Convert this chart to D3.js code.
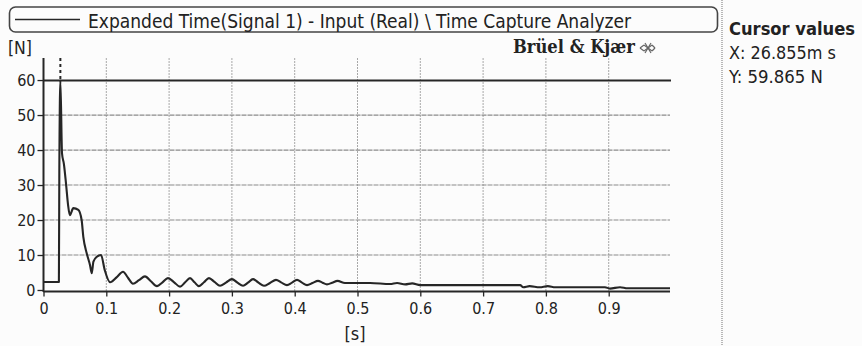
<!DOCTYPE html>
<html>
<head>
<meta charset="utf-8">
<script src="https://cdn.jsdelivr.net/npm/d3@7/dist/d3.min.js"></script>
<style>
  html, body { margin: 0; padding: 0; background: #fcfcfc; }
  svg { display: block; }
  text { font-family: "DejaVu Sans Condensed", "DejaVu Sans", sans-serif; font-stretch: condensed; fill: #222; }
</style>
</head>
<body>
<svg id="chart" width="862" height="346"></svg>
<script>
// Force trace: time in seconds, force in newtons
const timeS = [
  0, 0.0245, 0.0252, 0.02686, 0.0295, 0.0325, 0.0358, 0.039, 0.042, 0.0475,
  0.0555, 0.0607, 0.0634, 0.0688, 0.0741, 0.0768, 0.0795, 0.085, 0.0916, 0.0975,
  0.106, 0.1163, 0.1266, 0.1345, 0.1425, 0.152, 0.1616, 0.171, 0.1807, 0.1895,
  0.1982, 0.208, 0.2174, 0.2255, 0.2333, 0.2405, 0.2476, 0.2555, 0.2635, 0.2723,
  0.2811, 0.2905, 0.3, 0.3088, 0.3177, 0.3256, 0.3336, 0.3423, 0.3511, 0.3606,
  0.3702, 0.379, 0.3877, 0.3957, 0.4037, 0.4116, 0.4196, 0.4284, 0.4371, 0.4443,
  0.4514, 0.4598, 0.4682, 0.48, 0.52, 0.552, 0.563, 0.576, 0.587, 0.6,
  0.68, 0.759, 0.764, 0.774, 0.79, 0.803, 0.815, 0.86, 0.894, 0.902,
  0.918, 0.93, 0.96, 0.9976
];
const forceN = [
  2.3, 2.3, 34, 59.865, 39, 36, 30.5, 24.5, 21.4, 23.4,
  22.9, 20, 15.2, 10.5, 7.1, 4.8, 8.1, 9.5, 10, 5.7,
  2.2, 3.6, 5.2, 3.5, 1.8, 2.8, 3.9, 2.5, 1.1, 2.2,
  3.4, 2.2, 0.95, 2.2, 3.4, 2.2, 1.1, 2.2, 3.4, 2.3,
  1.2, 2.1, 3.1, 2.1, 1.2, 2.1, 3.1, 2.1, 1.2, 2.0,
  2.9, 2.1, 1.4, 2.1, 2.9, 2.1, 1.4, 2.0, 2.6, 2.1,
  1.6, 2.1, 2.6, 2.0, 2.0, 1.7, 2.0, 1.6, 1.9, 1.4,
  1.4, 1.4, 0.8, 1.1, 0.8, 1.1, 0.8, 0.8, 0.8, 0.4,
  0.8, 0.5, 0.5, 0.5
];

const xTicks = [0, 0.1, 0.2, 0.3, 0.4, 0.5, 0.6, 0.7, 0.8, 0.9];
const xTickLabels = ["0", "0.1", "0.2", "0.3", "0.4", "0.5", "0.6", "0.7", "0.8", "0.9"];
const yTicks = [0, 10, 20, 30, 40, 50, 60];
const yTickLabels = ["0", "10", "20", "30", "40", "50", "60"];

const cursorX = 0.026855;   // s
const cursorY = 59.865;     // N

const legendTitle = "Expanded Time(Signal 1) - Input (Real) \\ Time Capture Analyzer";
const brandText = "Br\u00fcel & Kj\u00e6r";
const cursorLines = ["Cursor values", "X: 26.855m s", "Y: 59.865 N"];

const svg = d3.select("#chart");
const ink = "#262626";

const plot = { left: 43.5, right: 670, top: 58, bottom: 291.5 };

const x = d3.scaleLinear().domain([0, 0.9976]).range([plot.left, plot.right]);
const y = d3.scaleLinear().domain([-0.43, 66.3]).range([plot.bottom, plot.top]);

// scale a text's font-size so it spans the given width
function fitText(sel, width) {
  const len = sel.node().getComputedTextLength();
  const fs = parseFloat(sel.attr("font-size"));
  sel.attr("font-size", (fs * width / len).toFixed(2));
  return sel;
}

// grid
const grid = svg.append("g");
grid.selectAll("line.v").data(xTicks.filter(d => d > 0)).join("line")
  .attr("x1", d => x(d)).attr("x2", d => x(d))
  .attr("y1", plot.top).attr("y2", plot.bottom)
  .attr("stroke", "#a8a8a8").attr("stroke-width", 1).attr("stroke-dasharray", "2,1");
grid.selectAll("line.h").data(yTicks.filter(d => d > 0 && d < 60)).join("line")
  .attr("x1", plot.left).attr("x2", plot.right)
  .attr("y1", d => y(d)).attr("y2", d => y(d))
  .attr("stroke", "#8a8a8a").attr("stroke-width", 1.2).attr("stroke-dasharray", "5,1");

// axes
const xAxis = d3.axisBottom(x).tickValues(xTicks)
  .tickFormat((d, i) => xTickLabels[i]).tickSize(5).tickPadding(6);
const yAxis = d3.axisLeft(y).tickValues(yTicks)
  .tickFormat((d, i) => yTickLabels[i]).tickSize(6).tickPadding(2);

const gx = svg.append("g").attr("transform", `translate(0,${plot.bottom})`).call(xAxis);
const gy = svg.append("g").attr("transform", `translate(${plot.left},0)`).call(yAxis);
[gx, gy].forEach(g => {
  g.select(".domain").remove();
  g.selectAll(".tick line").attr("stroke", ink).attr("stroke-width", 1.3);
  g.selectAll(".tick text").attr("font-size", 16).attr("fill", "#222");
});
gy.selectAll(".tick text").attr("dy", "0.36em");

svg.append("line")
  .attr("x1", plot.left).attr("x2", plot.right)
  .attr("y1", plot.bottom).attr("y2", plot.bottom)
  .attr("stroke", ink).attr("stroke-width", 2);
svg.append("line")
  .attr("x1", plot.left).attr("x2", plot.left)
  .attr("y1", plot.top).attr("y2", plot.bottom + 0.5)
  .attr("stroke", ink).attr("stroke-width", 2);

// cursor lines
svg.append("line")
  .attr("x1", plot.left).attr("x2", plot.right + 1)
  .attr("y1", y(cursorY)).attr("y2", y(cursorY))
  .attr("stroke", ink).attr("stroke-width", 2);
svg.append("line")
  .attr("x1", x(cursorX)).attr("x2", x(cursorX))
  .attr("y1", plot.top).attr("y2", y(cursorY))
  .attr("stroke", ink).attr("stroke-width", 2).attr("stroke-dasharray", "3,3");

// signal trace
const line = d3.line().x(d => x(d[0])).y(d => y(d[1])).curve(d3.curveMonotoneX);
svg.append("path")
  .datum(timeS.map((t, i) => [t, forceN[i]]))
  .attr("d", line)
  .attr("fill", "none").attr("stroke", ink).attr("stroke-width", 2.1)
  .attr("stroke-linejoin", "round");

// units
fitText(svg.append("text").attr("x", 8).attr("y", 54).attr("font-size", 17).text("[N]"), 24);
fitText(svg.append("text").attr("x", 355).attr("y", 340).attr("font-size", 17)
  .attr("text-anchor", "middle").text("[s]"), 21);

// legend box
svg.append("rect")
  .attr("x", 9.5).attr("y", 7).attr("width", 708).attr("height", 25).attr("rx", 6)
  .attr("fill", "none").attr("stroke", "#444").attr("stroke-width", 1.6);
svg.append("line")
  .attr("x1", 15).attr("x2", 80).attr("y1", 19.5).attr("y2", 19.5)
  .attr("stroke", ink).attr("stroke-width", 1.6);
fitText(svg.append("text").attr("x", 88).attr("y", 27.5).attr("font-size", 16).text(legendTitle), 543);

// brand mark
const brand = svg.append("text").attr("x", 513).attr("y", 53).attr("font-size", 14)
  .style("font-family", "'DejaVu Serif', 'Liberation Serif', serif")
  .style("font-stretch", "condensed")
  .attr("font-weight", "bold").attr("fill", "#444").text(brandText);
fitText(brand, 122);
const logo = svg.append("g").attr("transform", "translate(647,48)")
  .attr("fill", "none").attr("stroke", "#666").attr("stroke-width", 1.2);
[[-7, 0, -3, -3], [-7, 0, -3, 3], [-3, -3, 1, 0], [-3, 3, 1, 0], [1, 0, 5, -3], [1, 0, 5, 3], [5, -3, 8, 0], [5, 3, 8, 0], [-2, -5, 4, 5], [4, -5, -2, 5]]
  .forEach(s => logo.append("line").attr("x1", s[0]).attr("y1", s[1]).attr("x2", s[2]).attr("y2", s[3]));

// cursor readout panel
svg.append("line")
  .attr("x1", 722).attr("x2", 722).attr("y1", 0).attr("y2", 346)
  .attr("stroke", "#8a8a8a").attr("stroke-width", 1.2).attr("stroke-dasharray", "1,1");
const readY = [35, 59, 83];
const readW = [126, 107, 94];
cursorLines.forEach((s, i) => {
  const t = svg.append("text").attr("x", 729).attr("y", readY[i]).attr("font-size", 15)
    .attr("font-weight", i === 0 ? "bold" : "normal").text(s);
  fitText(t, readW[i]);
});
</script>
</body>
</html>
